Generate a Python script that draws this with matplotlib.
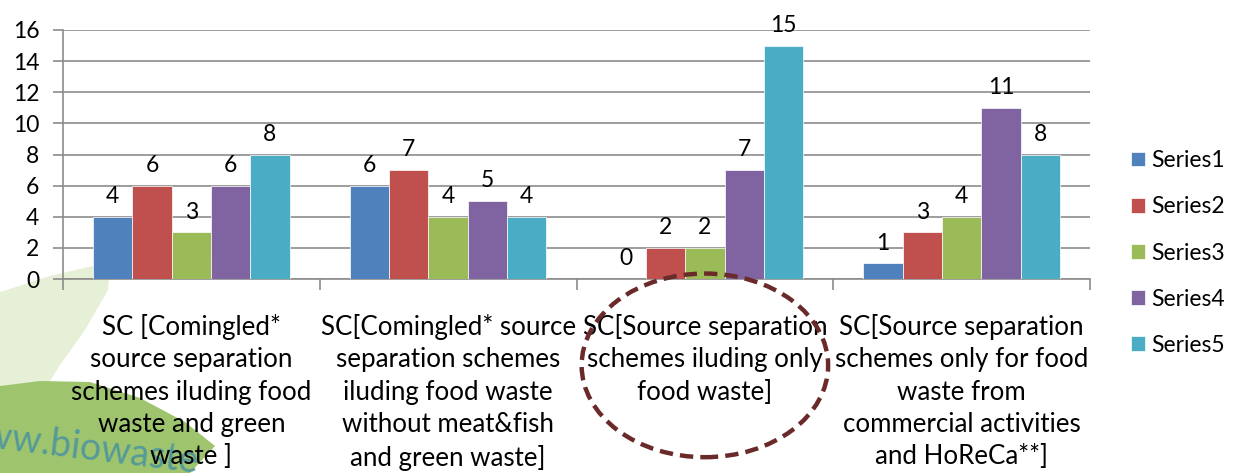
import matplotlib
matplotlib.use("Agg")
import matplotlib.pyplot as plt
from matplotlib.patches import Ellipse, Polygon
import numpy as np

plt.rcParams['font.family'] = ['Lato', 'DejaVu Sans']

# Data
categories = [
    "SC [Comingled*\nsource separation\nschemes iluding food\nwaste and green\nwaste ]",
    "SC[Comingled* source\nseparation schemes\niluding food waste\nwithout meat&fish\nand green waste]",
    "SC[Source separation\nschemes iluding only\nfood waste]",
    "SC[Source separation\nschemes only for food\nwaste from\ncommercial activities\nand HoReCa**]",
]
series_names = ["Series1", "Series2", "Series3", "Series4", "Series5"]
series1 = [4, 6, 0, 1]
series2 = [6, 7, 2, 3]
series3 = [3, 4, 2, 4]
series4 = [6, 5, 7, 11]
series5 = [8, 4, 15, 8]
colors = ["#4F81BD", "#C0504D", "#9BBB59", "#8064A2", "#4BACC6"]

fig = plt.figure(figsize=(12.33, 4.73), dpi=100)
W, H = 1233, 473

# watermark (leaf shapes + site name) in pixel space, behind the chart
def px(pts):
    return [(a / W, 1 - b / H) for a, b in pts]

pale = Polygon(px([(0, 292), (50, 276), (110, 262), (108, 290), (85, 330),
                   (60, 365), (43, 392), (0, 400)]),
               closed=True, facecolor="#e6f0d6", edgecolor="none",
               transform=fig.transFigure, zorder=0)
fig.patches.append(pale)
dark = Polygon(px([(0, 386), (40, 381), (90, 382), (140, 398), (185, 422),
                   (215, 446), (190, 473), (0, 473)]),
               closed=True, facecolor="#9fc46e", edgecolor="none",
               transform=fig.transFigure, zorder=0)
fig.patches.append(dark)
fig.text(-48 / W, 1 - 447 / H, "www.biowaste", color="#55999a", fontsize=27,
         rotation=-7, va="center", ha="left", zorder=1)

ax = fig.add_axes([63 / W, 1 - 279 / H, (1090 - 63) / W, (279 - 30) / H])
ax.set_zorder(2)
ax.patch.set_alpha(0)

x = np.arange(len(categories))
n = len(series_names)
bw = 0.153
all_series = [series1, series2, series3, series4, series5]
for i, (name, vals, c) in enumerate(zip(series_names, all_series, colors)):
    pos = x + (i - (n - 1) / 2) * bw
    bars = ax.bar(pos, vals, bw, color=c, label=name, zorder=3,
                  edgecolor="white", linewidth=0.5)
    for b, v in zip(bars, vals):
        ax.annotate(str(v), (b.get_x() + b.get_width() / 2, v),
                    xytext=(0, 7), textcoords="offset points",
                    ha="center", va="bottom", fontsize=16.5)

ax.set_xlim(-0.5, 3.5)
ax.set_ylim(0, 16)
ax.set_yticks(range(0, 17, 2))
ax.yaxis.grid(True, color="#8c8c8c", linewidth=1.2, zorder=0)
ax.set_axisbelow(True)
ax.tick_params(axis="y", labelsize=16.5, length=7, color="#8c8c8c", width=1.2, pad=10)

ax.set_xticks(x)
ax.set_xticklabels(categories, fontsize=18.6, linespacing=1.37)
ax.tick_params(axis="x", length=0, pad=25)
ax.set_xticks(np.arange(-0.5, 4, 1), minor=True)
ax.tick_params(axis="x", which="minor", length=8, color="#8c8c8c", width=1.2)

for s in ["top", "right"]:
    ax.spines[s].set_visible(False)
for s in ["left", "bottom"]:
    ax.spines[s].set_color("#8c8c8c")
    ax.spines[s].set_linewidth(1.2)

# dashed ellipse around third category
ell = Ellipse((2, -5.55), 0.96, 11.8, fill=False, edgecolor="#6b2a2a",
              linewidth=3.2, linestyle=(0, (3, 1.6)), clip_on=False, zorder=5)
ax.add_patch(ell)

leg = fig.legend(loc="center left", bbox_to_anchor=(1131 / W, 1 - 253 / H),
                 frameon=False, fontsize=16.5, handlelength=0.62, handleheight=0.62,
                 labelspacing=1.1, handletextpad=0.25, borderaxespad=0,
                 borderpad=0)

fig.savefig("out.png", dpi=100)
